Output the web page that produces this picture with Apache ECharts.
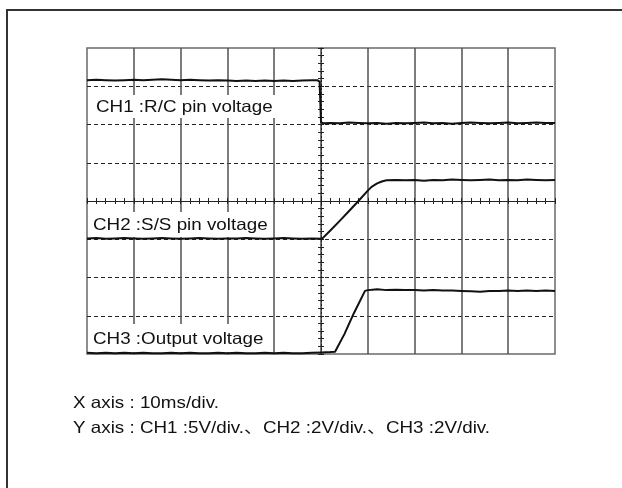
<!DOCTYPE html>
<html>
<head>
<meta charset="utf-8">
<script src="https://cdn.jsdelivr.net/npm/echarts@6/dist/echarts.min.js"></script>
<style>
  html, body { margin: 0; padding: 0; background: #fff; }
  #chart { width: 622px; height: 488px; }
</style>
</head>
<body>
<div id="chart"></div>
<script>
// Oscilloscope capture: time in ms (10 ms/div), amplitude in screen divisions (0 = bottom, 8 = top)
const ch1 = [
  [0, 7.16], [2, 7.17], [4, 7.16], [6, 7.15], [8, 7.16], [10, 7.17], [12, 7.16], [14, 7.17],
  [16, 7.18], [18, 7.17], [20, 7.16], [22, 7.17], [24, 7.16], [26, 7.15], [28, 7.16], [30, 7.15],
  [32, 7.14], [34, 7.15], [36, 7.14], [38, 7.15], [40, 7.14], [42, 7.15], [44, 7.14], [46, 7.15],
  [48, 7.16], [49.2, 7.16], [49.7, 7.12], [50.0, 6.06], [50.6, 6.03], [52, 6.04], [54, 6.03],
  [56, 6.05], [58, 6.04], [60, 6.03], [62, 6.04], [64, 6.02], [66, 6.04], [68, 6.03], [70, 6.04],
  [72, 6.05], [74, 6.03], [76, 6.04], [78, 6.02], [80, 6.04], [82, 6.05], [84, 6.04], [86, 6.03],
  [88, 6.04], [90, 6.05], [92, 6.03], [94, 6.04], [96, 6.05], [98, 6.04], [100, 6.04]
];
const ch2 = [
  [0, 3.02], [2, 3.03], [4, 3.01], [6, 3.02], [8, 3.03], [10, 3.02], [12, 3.01], [14, 3.02],
  [16, 3.03], [18, 3.02], [20, 3.01], [22, 3.02], [24, 3.03], [26, 3.02], [28, 3.01], [30, 3.02],
  [32, 3.02], [34, 3.03], [36, 3.02], [38, 3.01], [40, 3.02], [42, 3.03], [44, 3.02], [46, 3.01],
  [48, 3.02], [50.2, 3.01], [52, 3.23], [54, 3.48], [56, 3.74], [58, 4.0], [60, 4.27], [60.8, 4.37],
  [62, 4.46], [63, 4.51], [64, 4.54], [66, 4.55], [68, 4.54], [70, 4.55], [72, 4.53], [74, 4.55],
  [76, 4.54], [78, 4.56], [80, 4.55], [82, 4.54], [84, 4.55], [86, 4.56], [88, 4.54], [90, 4.55],
  [92, 4.54], [94, 4.56], [96, 4.55], [98, 4.54], [100, 4.55]
];
const ch3 = [
  [0, 0.03], [2, 0.02], [4, 0.03], [6, 0.02], [8, 0.03], [10, 0.02], [12, 0.03], [14, 0.02],
  [16, 0.02], [18, 0.03], [20, 0.02], [22, 0.03], [24, 0.02], [26, 0.02], [28, 0.03], [30, 0.02],
  [32, 0.03], [34, 0.02], [36, 0.02], [38, 0.03], [40, 0.02], [42, 0.03], [44, 0.02], [46, 0.02],
  [48, 0.03], [50, 0.04], [52, 0.05], [53.0, 0.06], [55, 0.52], [57, 1.06], [59.4, 1.65],
  [60, 1.67], [61, 1.68], [62, 1.69], [64, 1.67], [66, 1.68], [68, 1.67], [70, 1.67], [72, 1.66],
  [74, 1.67], [76, 1.66], [78, 1.66], [80, 1.65], [82, 1.64], [84, 1.63], [86, 1.65], [88, 1.65],
  [90, 1.66], [92, 1.65], [94, 1.66], [96, 1.65], [98, 1.66], [100, 1.65]
];

const channelLabels = ['CH1 :R/C pin voltage', 'CH2 :S/S pin voltage', 'CH3 :Output voltage'];
const scaleNotes = ['X axis : 10ms/div.', 'Y axis : CH1 :5V/div.\u3001CH2 :2V/div.\u3001CH3 :2V/div.'];

const FONT = '16.5px "Liberation Sans", Arial, "Noto Sans CJK JP", sans-serif';
const STRETCH = 1.14;   // slightly widened lettering
const INK = '#111';

const chart = echarts.init(document.getElementById('chart'), null, { renderer: 'canvas' });

const hidden = { show: false };
function centreAxis(position, offset, interval, max, lineStyle) {
  return {
    type: 'value', gridIndex: 0, position: position, offset: offset,
    min: 0, max: max, interval: interval,
    axisLine: lineStyle ? { show: true, onZero: false, lineStyle: lineStyle } : { show: false, onZero: false },
    axisTick: { show: true, length: 3, lineStyle: { color: '#222', width: 1 } },
    axisLabel: hidden, splitLine: hidden
  };
}

function traceSeries(data) {
  return {
    type: 'line', xAxisIndex: 0, yAxisIndex: 0, data: data,
    showSymbol: false, symbol: 'none', smooth: false, z: 5,
    lineStyle: { color: INK, width: 2, join: 'round' }
  };
}

function caption(text, x, y) {
  return { type: 'text', z: 2, x: x, y: y, scaleX: STRETCH,
    style: { text: text, font: FONT, fill: INK, verticalAlign: 'middle' } };
}

function labelBox(text, boxX, boxY, boxW, boxH, textX) {
  return [
    { type: 'rect', z: 1, shape: { x: boxX, y: boxY, width: boxW, height: boxH }, style: { fill: '#fff' } },
    caption(text, textX, boxY + boxH / 2 + 1)
  ];
}

chart.setOption({
  animation: false,
  backgroundColor: '#fff',
  grid: { left: 87, top: 48, width: 468, height: 306, show: true, borderColor: '#6a6a6a', borderWidth: 1.5, backgroundColor: 'transparent' },
  xAxis: [
    {
      type: 'value', min: 0, max: 100, interval: 10,
      axisLine: hidden, axisTick: hidden, axisLabel: hidden,
      splitLine: { show: true, showMinLine: false, showMaxLine: false, lineStyle: { color: '#505050', width: 1.5 } }
    },
    centreAxis('bottom', -153, 2, 100, { color: '#222', width: 1 }),
    centreAxis('top', -153, 2, 100, null)
  ],
  yAxis: [
    {
      type: 'value', min: 0, max: 8, interval: 1,
      axisLine: hidden, axisTick: hidden, axisLabel: hidden,
      splitLine: { show: true, showMinLine: false, showMaxLine: false, lineStyle: { color: '#222', width: 1, type: [4, 3] } }
    },
    centreAxis('left', -234, 0.2, 8, { color: '#222', width: 1, type: [2, 2] }),
    centreAxis('right', -234, 0.2, 8, null)
  ],
  series: [traceSeries(ch1), traceSeries(ch2), traceSeries(ch3)],
  graphic: [
    { type: 'rect', z: 10, shape: { x: 7, y: 10, width: 640, height: 500 }, style: { fill: 'none', stroke: '#333', lineWidth: 2 } },
    ...labelBox(channelLabels[0], 88, 95, 187, 23, 96),
    ...labelBox(channelLabels[1], 88, 212, 184, 25, 93),
    ...labelBox(channelLabels[2], 88, 324, 180, 28, 93),
    caption(scaleNotes[0], 73, 403),
    caption(scaleNotes[1], 73, 428)
  ]
});
</script>
</body>
</html>
